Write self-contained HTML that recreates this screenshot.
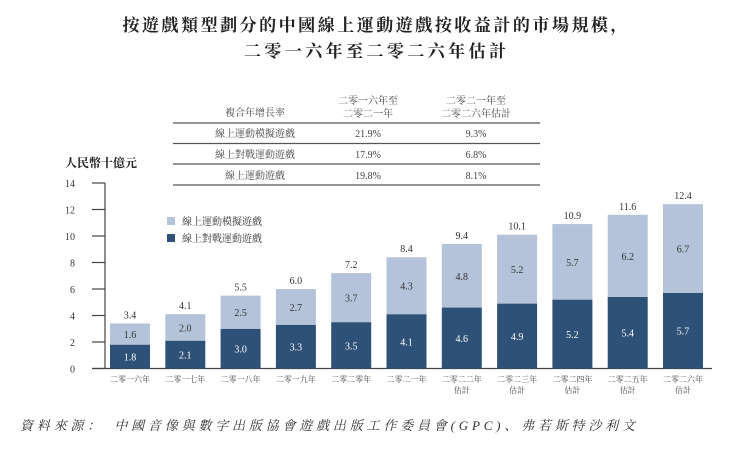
<!DOCTYPE html>
<html><head><meta charset="utf-8">
<style>
body{margin:0;background:#fff;width:750px;height:450px;overflow:hidden;font-family:"Liberation Serif","Noto Serif CJK SC","Noto Sans CJK TC",serif;}
svg text{font-family:"Liberation Serif","Noto Serif CJK SC","Noto Sans CJK TC",serif;}
</style></head><body>
<svg width="750" height="450" viewBox="0 0 750 450">
<text x="375" y="31" text-anchor="middle" font-size="17" font-weight="bold" fill="#222" textLength="505" lengthAdjust="spacing">按遊戲類型劃分的中國線上運動遊戲按收益計的市場規模，</text>
<text x="375" y="57" text-anchor="middle" font-size="17" font-weight="bold" fill="#222" textLength="262" lengthAdjust="spacing">二零一六年至二零二六年估計</text>
<g font-size="10" fill="#444">
<text x="255" y="116" text-anchor="middle">複合年增長率</text>
<text x="368" y="104" text-anchor="middle">二零一六年至</text>
<text x="368" y="117" text-anchor="middle">二零二一年</text>
<text x="476" y="104" text-anchor="middle">二零二一年至</text>
<text x="476" y="117" text-anchor="middle">二零二六年估計</text>
<line x1="173" y1="123" x2="540" y2="123" stroke="#555" stroke-width="1.2"/>
<line x1="173" y1="143.5" x2="540" y2="143.5" stroke="#555" stroke-width="1.2"/>
<line x1="173" y1="164" x2="540" y2="164" stroke="#555" stroke-width="1.2"/>
<line x1="173" y1="185" x2="540" y2="185" stroke="#555" stroke-width="1.2"/>
<text x="255" y="137" text-anchor="middle">線上運動模擬遊戲</text>
<text x="368" y="137" text-anchor="middle">21.9%</text><text x="476" y="137" text-anchor="middle">9.3%</text>
<text x="255" y="158" text-anchor="middle">線上對戰運動遊戲</text>
<text x="368" y="158" text-anchor="middle">17.9%</text><text x="476" y="158" text-anchor="middle">6.8%</text>
<text x="255" y="179" text-anchor="middle">線上運動遊戲</text>
<text x="368" y="179" text-anchor="middle">19.8%</text><text x="476" y="179" text-anchor="middle">8.1%</text>
</g>
<text x="65" y="167" font-size="12" font-weight="bold" fill="#222">人民幣十億元</text>
<g font-size="10" fill="#333">
<rect x="167" y="217" width="8" height="8" fill="#b4c3d9"/>
<text x="182" y="225">線上運動模擬遊戲</text>
<rect x="167" y="234" width="8" height="8" fill="#2d5177"/>
<text x="182" y="242">線上對戰運動遊戲</text>
</g>
<g id="axes"></g>
<g id="bars"></g>
<text x="20" y="430" font-size="13" fill="#333" textLength="615" lengthAdjust="spacing" font-style="italic">資料來源：　中國音像與數字出版協會遊戲出版工作委員會(GPC)、弗若斯特沙利文</text>
</svg>
<script>
const categories=["二零一六年","二零一七年","二零一八年","二零一九年","二零二零年","二零二一年","二零二二年|估計","二零二三年|估計","二零二四年|估計","二零二五年|估計","二零二六年|估計"];
const battleValues=[1.8,2.1,3.0,3.3,3.5,4.1,4.6,4.9,5.2,5.4,5.7];
const simValues=[1.6,2.0,2.5,2.7,3.7,4.3,4.8,5.2,5.7,6.2,6.7];
const totalValues=[3.4,4.1,5.5,6.0,7.2,8.4,9.4,10.1,10.9,11.6,12.4];
const yTicks=[0,2,4,6,8,10,12,14];
const NS="http://www.w3.org/2000/svg";
const y0=368.5,pxPerUnit=13.25;
function yScale(v){return y0-v*pxPerUnit;}
function xScale(i){return 130+i*55.3;}
const barW=40;
function mk(tag,attrs,parent){const e=document.createElementNS(NS,tag);for(const k in attrs)e.setAttribute(k,attrs[k]);parent.appendChild(e);return e;}
const axes=document.getElementById('axes'),bars=document.getElementById('bars');
let ax=mk('line',{x1:105,y1:yScale(14),x2:105,y2:y0,stroke:'#444','stroke-width':1.2},axes);


let xl=mk('line',{x1:92,y1:y0,x2:712,y2:y0,stroke:'#444','stroke-width':1.2},axes);


yTicks.forEach(t=>{
 mk('line',{x1:92,y1:yScale(t),x2:105,y2:yScale(t),stroke:'#444','stroke-width':1.2},axes);
 const tx=mk('text',{x:75,y:yScale(t)+4,'text-anchor':'end','font-size':10,fill:'#333'},axes);
 tx.textContent=t;
 
 
});
categories.forEach((c,i)=>{
 const cx=xScale(i),b=battleValues[i],s=simValues[i];
 const rb=mk('rect',{x:cx-barW/2,y:yScale(b),width:barW,height:y0-yScale(b),fill:'#2d5177'},bars);
 
 
 const rs=mk('rect',{x:cx-barW/2,y:yScale(b+s),width:barW,height:yScale(b)-yScale(b+s),fill:'#b4c3d9'},bars);
 
 
 const tb=mk('text',{x:cx,y:(yScale(b)+y0)/2+4,'text-anchor':'middle','font-size':10,fill:'#fff'},bars);
 tb.textContent=b.toFixed(1);
 
 
 const ts=mk('text',{x:cx,y:(yScale(b)+yScale(b+s))/2+4,'text-anchor':'middle','font-size':10,fill:'#333'},bars);
 ts.textContent=s.toFixed(1);
 
 
 const tt=mk('text',{x:cx,y:yScale(totalValues[i])-5,'text-anchor':'middle','font-size':10,fill:'#333'},bars);
 tt.textContent=totalValues[i].toFixed(1);
 
 
 c.split('|').forEach((ln,j)=>{
  const cl=mk('text',{x:cx,y:382+j*11,'text-anchor':'middle','font-size':8,fill:'#444'},bars);
  cl.textContent=ln;
  
  
 });
});
</script>
</body></html>
